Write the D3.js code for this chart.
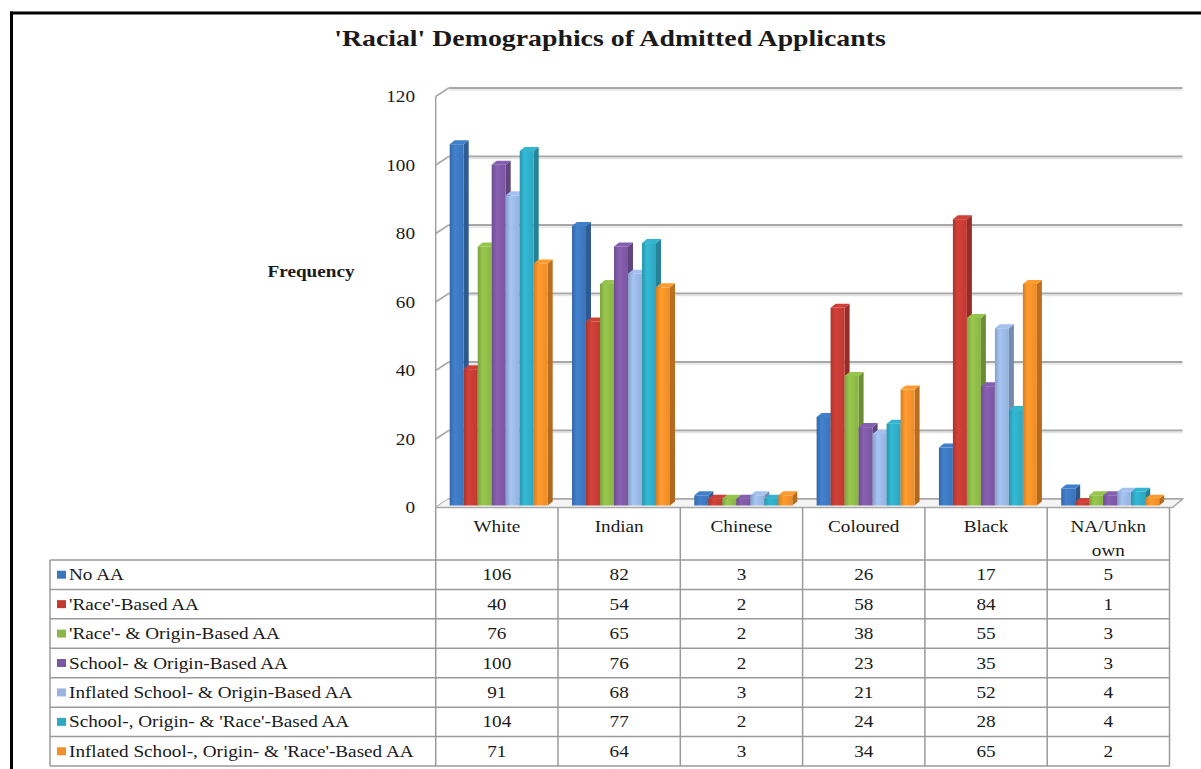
<!DOCTYPE html>
<html>
<head>
<meta charset="utf-8">
<script src="https://cdn.jsdelivr.net/npm/d3@7/dist/d3.min.js"></script>
<style>
  html, body { margin: 0; padding: 0; background: #fff; }
  svg { display: block; }
</style>
</head>
<body>
<svg id="chart" width="1201" height="769"></svg>
<script>
// ---------- DATA ----------
const title = "'Racial' Demographics of Admitted Applicants";
const yAxisTitle = "Frequency";
const categories = ["White", "Indian", "Chinese", "Coloured", "Black", "NA/Unknown"];
const seriesNames = [
  "No AA",
  "'Race'-Based AA",
  "'Race'- & Origin-Based AA",
  "School- & Origin-Based AA",
  "Inflated School- & Origin-Based AA",
  "School-, Origin- & 'Race'-Based AA",
  "Inflated School-, Origin- & 'Race'-Based AA"
];
const noAA            = [106, 82, 3, 26, 17, 5];
const raceBased       = [40, 54, 2, 58, 84, 1];
const raceOrigin      = [76, 65, 2, 38, 55, 3];
const schoolOrigin    = [100, 76, 2, 23, 35, 3];
const inflSchoolOrig  = [91, 68, 3, 21, 52, 4];
const schoolOrigRace  = [104, 77, 2, 24, 28, 4];
const inflSchoolOrigRace = [71, 64, 3, 34, 65, 2];
const yTicks = [0, 20, 40, 60, 80, 100, 120];
const seriesColors = ["#3c76bd", "#c23b33", "#8cb746", "#7c58a3", "#98b4df", "#2fa9c3", "#f28f29"];

const seriesValues = [noAA, raceBased, raceOrigin, schoolOrigin, inflSchoolOrig, schoolOrigRace, inflSchoolOrigRace];

// ---------- LAYOUT ----------
const svg = d3.select("#chart");
const FONT = "'Liberation Serif', 'DejaVu Serif', 'Times New Roman', serif";
const SX = 1.2; // horizontal text stretch of the reference
const plotLeft = 435.7, plotRight = 1169.5;
const depthX = 13, depthY = -8.5;        // back wall offset
const frontY0 = 507.5, barY0 = 505.5;

const x = d3.scaleBand().domain(categories).range([plotLeft, plotRight]).paddingInner(0).paddingOuter(0);
const xs = d3.scaleBand().domain(d3.range(seriesNames.length)).range([14, 14 + 98]).padding(0);
const yFront = d3.scaleLinear().domain([0, 120]).range([frontY0, frontY0 - 411]);
const yBar = d3.scaleLinear().domain([0, 120]).range([barY0, barY0 - 409]);
const yBack = d3.scaleLinear().domain([0, 120]).range([frontY0 + depthY, frontY0 + depthY - 411]);

function stext(g, px, py, str, opt = {}) {
  return g.append("text")
    .attr("transform", `translate(${px},${py}) scale(${opt.sx || SX},1)`)
    .attr("text-anchor", opt.anchor || "middle")
    .attr("font-family", FONT)
    .attr("font-size", opt.size || 16)
    .attr("font-weight", opt.weight || "normal")
    .attr("fill", "#1a1a1a")
    .text(str);
}

// frame
svg.append("line").attr("x1", 11.5).attr("x2", 11.5).attr("y1", 11.5).attr("y2", 769)
  .attr("stroke", "#000").attr("stroke-width", 3);
svg.append("line").attr("x1", 10).attr("x2", 1201).attr("y1", 13).attr("y2", 13)
  .attr("stroke", "#000").attr("stroke-width", 3);

// title
stext(svg, 610, 46, title, {size: 23, weight: "bold", sx: 1.21});
// y axis title
stext(svg, 311, 277, yAxisTitle, {size: 16, weight: "bold"});

// gradients
const defs = svg.append("defs");
seriesColors.forEach((c, i) => {
  const base = d3.color(c);
  const g = defs.append("linearGradient").attr("id", "gf" + i).attr("x1", 0).attr("x2", 1).attr("y1", 0).attr("y2", 0);
  g.append("stop").attr("offset", "0%").attr("stop-color", base.darker(0.35));
  g.append("stop").attr("offset", "35%").attr("stop-color", base.brighter(0.25));
  g.append("stop").attr("offset", "100%").attr("stop-color", base.darker(0.05));
  const s = defs.append("linearGradient").attr("id", "gs" + i).attr("x1", 0).attr("x2", 0).attr("y1", 0).attr("y2", 1);
  s.append("stop").attr("offset", "0%").attr("stop-color", base.darker(0.7));
  s.append("stop").attr("offset", "100%").attr("stop-color", base.darker(0.9));
});

// walls
const wall = svg.append("g");
wall.selectAll(".grid").data(yTicks).join("line")
  .attr("x1", plotLeft + depthX).attr("x2", plotRight + depthX)
  .attr("y1", d => yBack(d)).attr("y2", d => yBack(d))
  .attr("stroke", "#a8a8a8").attr("stroke-width", 2);
wall.selectAll(".grids").data(yTicks).join("line")
  .attr("x1", plotLeft + depthX).attr("x2", plotRight + depthX)
  .attr("y1", d => yBack(d) + 2).attr("y2", d => yBack(d) + 2)
  .attr("stroke", "#e4e4e4").attr("stroke-width", 1.5);
wall.selectAll(".diag").data(yTicks).join("line")
  .attr("x1", plotLeft).attr("x2", plotLeft + depthX)
  .attr("y1", d => yFront(d)).attr("y2", d => yBack(d))
  .attr("stroke", "#a8a8a8").attr("stroke-width", 1.5);
wall.append("line").attr("x1", plotLeft).attr("x2", plotLeft)
  .attr("y1", yFront(120)).attr("y2", yFront(0))
  .attr("stroke", "#a0a0a0").attr("stroke-width", 1.5);
wall.append("path")
  .attr("d", `M${plotLeft},${yFront(0)} L${plotRight + 3},${yFront(0)} L${plotRight + depthX},${yBack(0)} L${plotLeft + depthX},${yBack(0)}`)
  .attr("fill", "#f4f4f4").attr("stroke", "#a8a8a8").attr("stroke-width", 1.5);

// y tick labels
const tickG = svg.append("g");
yTicks.forEach(d => stext(tickG, 415, yFront(d) + 5.5, d, {anchor: "end", size: 16}));

// bars
const dx = 5, dy = -4;
const bars = svg.append("g");
categories.forEach((cat, ci) => {
  seriesValues.forEach((vals, si) => {
    const v = vals[ci];
    const x0 = x(cat) + xs(si), w = xs.bandwidth();
    const yt = yBar(v), yb = yBar(0);
    const g = bars.append("g");
    g.append("path")
      .attr("d", `M${x0 + w},${yt} L${x0 + w + dx},${yt + dy} L${x0 + w + dx},${yb + dy} L${x0 + w},${yb}Z`)
      .attr("fill", `url(#gs${si})`);
    g.append("rect").attr("x", x0).attr("y", yt).attr("width", w).attr("height", yb - yt)
      .attr("fill", `url(#gf${si})`);
    g.append("path")
      .attr("d", `M${x0},${yt} L${x0 + dx},${yt + dy} L${x0 + w + dx},${yt + dy} L${x0 + w},${yt}Z`)
      .attr("fill", d3.color(seriesColors[si]).brighter(0.2));
  });
});

// ---------- DATA TABLE ----------
const tbl = svg.append("g");
const tableLeft = 50, headTop = frontY0, headBottom = 560, rowH = 29.43;
const tableBottom = headBottom + rowH * seriesNames.length;
const lineColor = "#9a9a9a";
const colEdges = categories.map(c => x(c)).concat([plotRight]);
tbl.selectAll(".vl").data(colEdges).join("line")
  .attr("x1", d => d).attr("x2", d => d).attr("y1", headTop).attr("y2", tableBottom)
  .attr("stroke", lineColor).attr("stroke-width", 1.5);
tbl.append("line").attr("x1", tableLeft).attr("x2", tableLeft).attr("y1", headBottom).attr("y2", tableBottom)
  .attr("stroke", lineColor).attr("stroke-width", 1.5);
tbl.selectAll(".hl").data(d3.range(seriesNames.length + 1)).join("line")
  .attr("x1", tableLeft).attr("x2", plotRight)
  .attr("y1", d => headBottom + d * rowH).attr("y2", d => headBottom + d * rowH)
  .attr("stroke", lineColor).attr("stroke-width", 1.5);

categories.forEach(cat => {
  const cx = x(cat) + x.bandwidth() / 2;
  let lines = [cat];
  if (cat.length > 8) lines = [cat.slice(0, 7), cat.slice(7)];
  lines.forEach((ln, li) => stext(tbl, cx, 532 + li * 24, ln, {size: 16}));
});

seriesNames.forEach((name, si) => {
  const cy = headBottom + si * rowH + rowH / 2;
  tbl.append("rect").attr("x", 57).attr("y", cy - 4).attr("width", 9).attr("height", 8)
    .attr("fill", seriesColors[si]);
  stext(tbl, 69, cy + 5.5, name, {anchor: "start", size: 16});
  categories.forEach((cat, ci) => {
    stext(tbl, x(cat) + x.bandwidth() / 2, cy + 5.5, seriesValues[si][ci], {size: 16});
  });
});
</script>
</body>
</html>
